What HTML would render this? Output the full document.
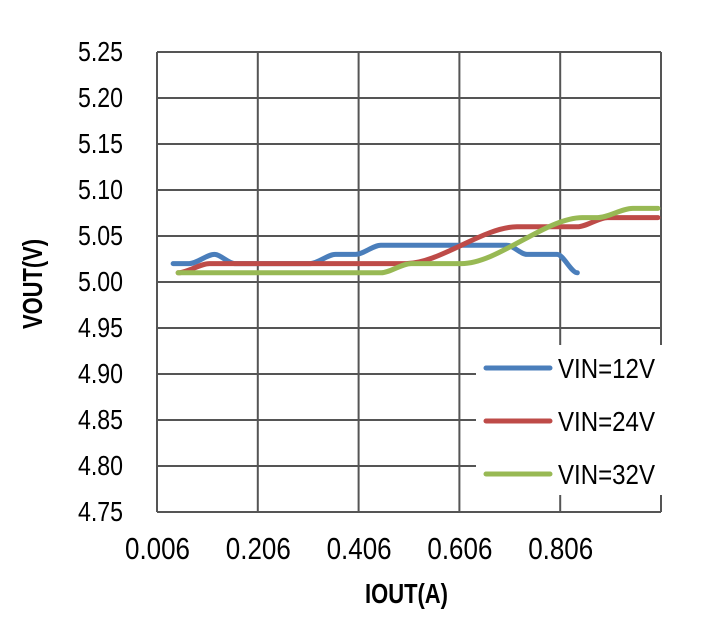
<!DOCTYPE html>
<html><head><meta charset="utf-8"><style>
body{margin:0;background:#fff}
svg text{font-family:"Liberation Sans Narrow","Liberation Sans",sans-serif}
</style></head><body>
<svg width="708" height="633" viewBox="0 0 708 633" id="c">
<rect width="708" height="633" fill="#fff"/>
<g id="grid"></g>
<g id="ticks"></g>
<g id="series"></g>
<g id="legend"></g>
<text x="365" y="603" font-size="28" font-weight="bold" textLength="83" lengthAdjust="spacingAndGlyphs">IOUT(A)</text>
<text x="0" y="0" font-size="28" font-weight="bold" textLength="90" lengthAdjust="spacingAndGlyphs" transform="translate(42,329) rotate(-90)">VOUT(V)</text>
</svg>
<script>
const xTicks=[0.006,0.206,0.406,0.606,0.806,1.006];
const xTickLabels=["0.006","0.206","0.406","0.606","0.806",""];
const yTicks=[4.75,4.80,4.85,4.90,4.95,5.00,5.05,5.10,5.15,5.20,5.25];
const seriesNames=["VIN=12V","VIN=24V","VIN=32V"];
const seriesColors=["#4a7ebb","#be4b48","#98b954"];
const blueX=[0.038,0.07,0.12,0.16,0.31,0.36,0.4,0.45,0.7,0.74,0.8,0.84];
const blueY=[5.02,5.02,5.03,5.02,5.02,5.03,5.03,5.04,5.04,5.03,5.03,5.01];
const redX=[0.048,0.11,0.5,0.72,0.84,0.9,1.0];
const redY=[5.01,5.02,5.02,5.06,5.06,5.07,5.07];
const greenX=[0.048,0.45,0.51,0.61,0.85,0.88,0.95,1.0];
const greenY=[5.01,5.01,5.02,5.02,5.07,5.07,5.08,5.08];
const NS="http://www.w3.org/2000/svg";
const X0=157,X1=661,Y0=512,Y1=52;
const xs=v=>X0+(v-0.006)/(1.006-0.006)*(X1-X0);
const ys=v=>Y0-(v-4.75)/(0.5)*(Y0-Y1);
function mk(t,a,p){const e=document.createElementNS(NS,t);for(const k in a)e.setAttribute(k,a[k]);p.appendChild(e);return e;}
const g=document.getElementById('grid'),tk=document.getElementById('ticks'),se=document.getElementById('series'),lg=document.getElementById('legend');
xTicks.forEach((v,i)=>{const l=mk('line',{x1:xs(v),x2:xs(v),y1:Y1,y2:Y0,stroke:'#555','stroke-width':2},g);


if(xTickLabels[i]){const t=mk('text',{x:xs(v)-32,y:559,'font-size':31,textLength:65,lengthAdjust:'spacingAndGlyphs'},tk);t.textContent=xTickLabels[i];

}});
yTicks.forEach(v=>{const l=mk('line',{x1:X0,x2:X1,y1:ys(v),y2:ys(v),stroke:'#555','stroke-width':2},g);


const t=mk('text',{x:78,y:ys(v)+9,'font-size':28,textLength:45,lengthAdjust:'spacingAndGlyphs'},tk);t.textContent=v.toFixed(2);

});
function curve(X,Y,c,n){const pts=X.map((x,i)=>[xs(x),ys(Y[i])]);let d='M'+pts[0];
for(let i=1;i<pts.length;i++){const p1=pts[i-1],p2=pts[i],dx=(p2[0]-p1[0])*0.3;
d+='C'+[p1[0]+dx,p1[1]]+' '+[p2[0]-dx,p2[1]]+' '+p2;}
const p=mk('path',{d:d,fill:'none',stroke:c,'stroke-width':5,'stroke-linecap':'round','stroke-linejoin':'round'},se);

}
curve(blueX,blueY,seriesColors[0],'series-vin-12v');
curve(redX,redY,seriesColors[1],'series-vin-24v');
curve(greenX,greenY,seriesColors[2],'series-vin-32v');
const bg=mk('rect',{x:476,y:345,width:186,height:150,fill:'#fff'},lg);


seriesNames.forEach((n,i)=>{const y=368+i*53;
const l=mk('line',{x1:486,x2:550,y1:y,y2:y,stroke:seriesColors[i],'stroke-width':5,'stroke-linecap':'round'},lg);


const t=mk('text',{x:558,y:y+10,'font-size':28,textLength:97,lengthAdjust:'spacingAndGlyphs'},lg);t.textContent=n;

});
</script>
</body></html>
